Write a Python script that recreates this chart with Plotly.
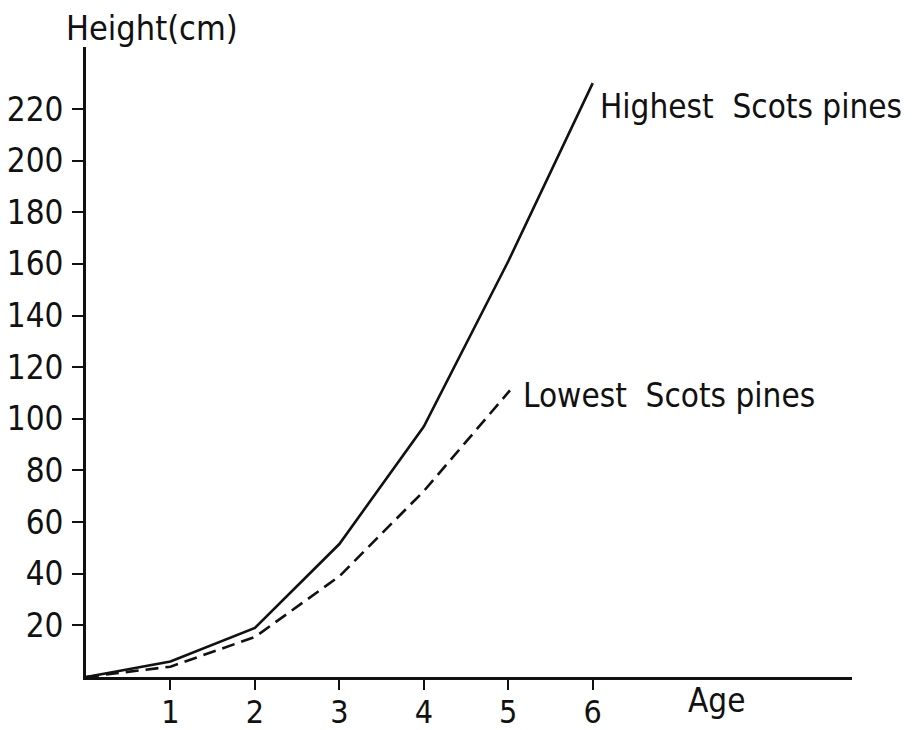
import plotly.graph_objects as go

age = [0, 1, 2, 3, 4, 5, 6]
highest = [0, 6, 19, 51.5, 97, 161, 230]
age_low = [0, 1, 2, 3, 4, 5.02]
lowest = [0, 4, 15.5, 39, 72, 111]
y_ticks = [20, 40, 60, 80, 100, 120, 140, 160, 180, 200, 220]
x_ticks = [1, 2, 3, 4, 5, 6]

FONT = "DejaVu Sans Condensed"
# figure is drawn 8px in from the page's top-left corner (body margin)
L, T, R, B = 78, 39, 72, 61
PW, PH = 916 - L - R, 730 - T - B

fig = go.Figure()
fig.add_trace(go.Scatter(x=age, y=highest, mode="lines",
                         line=dict(color="#111", width=2.6), showlegend=False))
fig.add_trace(go.Scatter(x=age_low, y=lowest, mode="lines",
                         line=dict(color="#111", width=2.6, dash="13px,7px"), showlegend=False))

fig.add_annotation(x=6.06, y=221, xref="x", yref="y", text="Highest  Scots pines",
                   showarrow=False, xanchor="left", yanchor="middle",
                   font=dict(family=FONT, size=33, color="#111"))
fig.add_annotation(x=5.15, y=109, xref="x", yref="y", text="Lowest  Scots pines",
                   showarrow=False, xanchor="left", yanchor="middle",
                   font=dict(family=FONT, size=33, color="#111"))
fig.add_annotation(x=(56 - L) / PW, y=1 + (T - 20) / PH, xref="paper", yref="paper",
                   text="Height(cm)", showarrow=False, xanchor="left", yanchor="middle",
                   font=dict(family=FONT, size=34, color="#111"))
fig.add_annotation(x=(678 - L) / PW, y=-(692 - (730 - B)) / PH, xref="paper", yref="paper",
                   text="Age", showarrow=False, xanchor="left", yanchor="middle",
                   font=dict(family=FONT, size=33, color="#111"))

fig.update_layout(
    width=916, height=730,
    margin=dict(l=L, r=R, t=T, b=B),
    paper_bgcolor="white", plot_bgcolor="white",
    font=dict(family=FONT, size=33, color="#111"),
    xaxis=dict(range=[0, 9.07], tickvals=x_ticks, ticktext=[str(v) for v in x_ticks],
               showgrid=False, zeroline=False, showline=True, linecolor="#111", linewidth=2.8,
               ticks="outside", ticklen=10, tickwidth=2.2, tickcolor="#111", automargin=False,
               ticklabelstandoff=-5,
               tickfont=dict(family=FONT, size=32, color="#111")),
    yaxis=dict(range=[0, 244], tickvals=y_ticks, ticktext=[str(v) for v in y_ticks],
               showgrid=False, zeroline=False, showline=True, linecolor="#111", linewidth=2.8,
               ticks="outside", ticklen=11, tickwidth=2.2, tickcolor="#111", automargin=False,
               ticklabelstandoff=2,
               tickfont=dict(family=FONT, size=33, color="#111")),
)

fig.write_html("out.html")
